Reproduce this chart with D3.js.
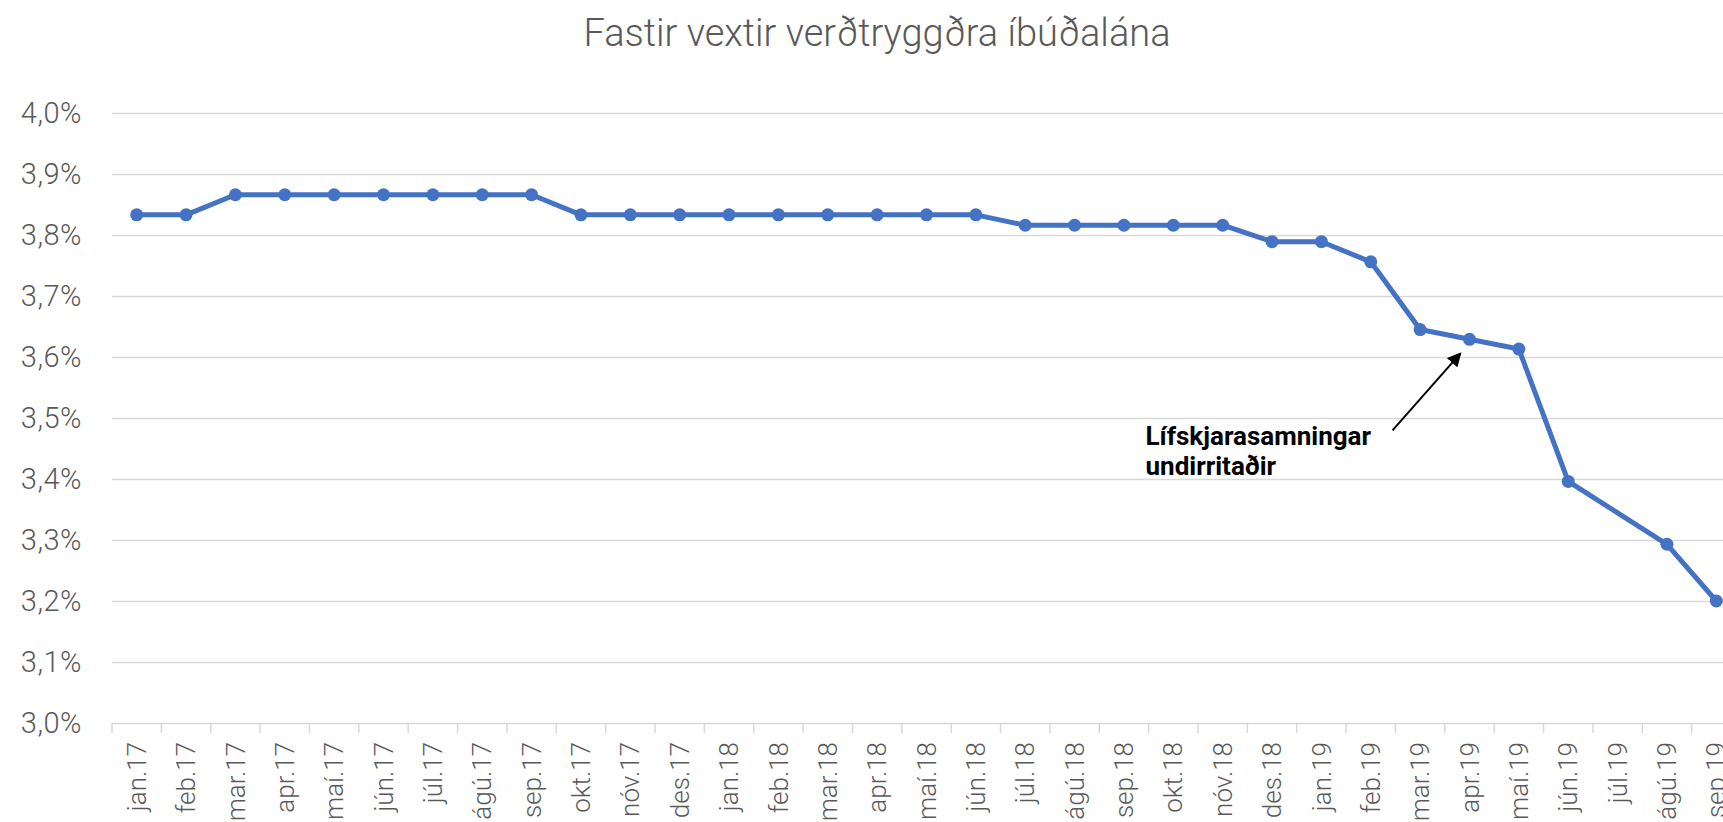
<!DOCTYPE html>
<html>
<head>
<meta charset="utf-8">
<script src="https://cdn.jsdelivr.net/npm/d3@7"></script>
<style>
  html, body { margin: 0; padding: 0; background: #fff; overflow: hidden; }
  .chart text { font-family: Roboto, "Open Sans", sans-serif; }
</style>
</head>
<body>
<div class="chart"></div>
<script>
const [svgWidth, svgHeight] = [1723, 822];

// data
const months = [
  'jan.17', 'feb.17', 'mar.17', 'apr.17', 'maí.17', 'jún.17', 'júl.17', 'ágú.17', 'sep.17', 'okt.17', 'nóv.17', 'des.17',
  'jan.18', 'feb.18', 'mar.18', 'apr.18', 'maí.18', 'jún.18', 'júl.18', 'ágú.18', 'sep.18', 'okt.18', 'nóv.18', 'des.18',
  'jan.19', 'feb.19', 'mar.19', 'apr.19', 'maí.19', 'jún.19', 'júl.19', 'ágú.19', 'sep.19'
];
const rates = [
  3.833, 3.833, 3.866, 3.866, 3.866, 3.866, 3.866, 3.866, 3.866, 3.833, 3.833, 3.833,
  3.833, 3.833, 3.833, 3.833, 3.833, 3.833, 3.816, 3.816, 3.816, 3.816, 3.816, 3.789,
  3.789, 3.756, 3.645, 3.629, 3.613, 3.396, null, 3.293, 3.200
];
const yTicks = [3.0, 3.1, 3.2, 3.3, 3.4, 3.5, 3.6, 3.7, 3.8, 3.9, 4.0];
const title = 'Fastir vextir verðtryggðra íbúðalána';
const noteLines = ['Lífskjarasamningar', 'undirritaðir'];
const noteMonth = 'apr.19';

const margin = {left: 112, top: 113, bottom: 723, right: 1741};
const gridColor = '#d9d9d9';
const textColor = '#595959';
const lineColor = '#4472c4';

const svg = d3.select('.chart')
  .append('svg')
  .attr('width', svgWidth)
  .attr('height', svgHeight);

const x = d3.scaleBand()
  .domain(months)
  .range([margin.left, margin.right]);
const y = d3.scaleLinear()
  .domain([3.0, 4.0])
  .range([margin.bottom, margin.top]);

const fmt = d => d3.format('.1f')(d).replace('.', ',') + '%';

// title
svg.append('text')
  .attr('x', 877)
  .attr('y', 46)
  .attr('text-anchor', 'middle')
  .attr('font-size', 38)
  .attr('font-weight', 300)
  .attr('fill', textColor)
  .text(title);

// y axis + gridlines
const yAxis = svg.append('g')
  .attr('transform', `translate(${margin.left},0)`)
  .call(d3.axisLeft(y)
    .tickValues(yTicks)
    .tickFormat(fmt)
    .tickSize(-(margin.right - margin.left))
    .tickPadding(30));
yAxis.select('.domain').remove();
yAxis.selectAll('line')
  .attr('stroke', gridColor)
  .attr('stroke-width', 1.5);
yAxis.selectAll('text')
  .attr('fill', textColor)
  .attr('font-size', 29)
  .attr('font-weight', 300)
  .attr('letter-spacing', 0.5);

// x axis
const xAxis = svg.append('g')
  .attr('transform', `translate(0,${margin.bottom})`)
  .call(d3.axisBottom(x).tickSize(0));
xAxis.select('.domain').remove();
xAxis.selectAll('text')
  .attr('transform', 'rotate(-90)')
  .attr('text-anchor', 'end')
  .attr('x', -19)
  .attr('y', 0)
  .attr('dy', '0.35em')
  .attr('fill', textColor)
  .attr('font-size', 26)
  .attr('font-weight', 300);
xAxis.selectAll('.bound')
  .data(months)
  .enter()
  .append('line')
  .classed('bound', true)
  .attr('x1', d => x(d))
  .attr('x2', d => x(d))
  .attr('y1', 0)
  .attr('y2', 10)
  .attr('stroke', gridColor)
  .attr('stroke-width', 1.5);

// series
const points = months
  .map((m, i) => ({m, v: rates[i]}))
  .filter(d => d.v != null);
const cx = d => x(d.m) + x.bandwidth() / 2;

svg.append('path')
  .datum(points)
  .attr('fill', 'none')
  .attr('stroke', lineColor)
  .attr('stroke-width', 5)
  .attr('stroke-linejoin', 'round')
  .attr('d', d3.line().x(cx).y(d => y(d.v)));

svg.selectAll('circle.dot')
  .data(points)
  .enter()
  .append('circle')
  .classed('dot', true)
  .attr('r', 6.5)
  .attr('cx', cx)
  .attr('cy', d => y(d.v))
  .attr('fill', lineColor);

// annotation
const target = points.find(d => d.m === noteMonth);
const [tx, ty] = [cx(target), y(target.v)];
svg.append('defs')
  .append('marker')
  .attr('id', 'arrow')
  .attr('viewBox', '0 0 10 10')
  .attr('refX', 9)
  .attr('refY', 5)
  .attr('markerWidth', 7)
  .attr('markerHeight', 7)
  .attr('orient', 'auto')
  .append('path')
  .attr('d', 'M0,0 L10,5 L0,10 z')
  .attr('fill', '#000');
svg.append('line')
  .attr('x1', tx - 77)
  .attr('y1', ty + 91)
  .attr('x2', tx - 9)
  .attr('y2', ty + 14)
  .attr('stroke', '#000')
  .attr('stroke-width', 2)
  .attr('marker-end', 'url(#arrow)');
svg.append('text')
  .attr('x', tx - 324)
  .attr('y', ty + 106)
  .attr('font-size', 26)
  .attr('font-weight', 700)
  .attr('fill', '#000')
  .selectAll('tspan')
  .data(noteLines)
  .enter()
  .append('tspan')
  .attr('x', tx - 324)
  .attr('dy', (d, i) => i === 0 ? 0 : 30)
  .text(d => d);
</script>
</body>
</html>
